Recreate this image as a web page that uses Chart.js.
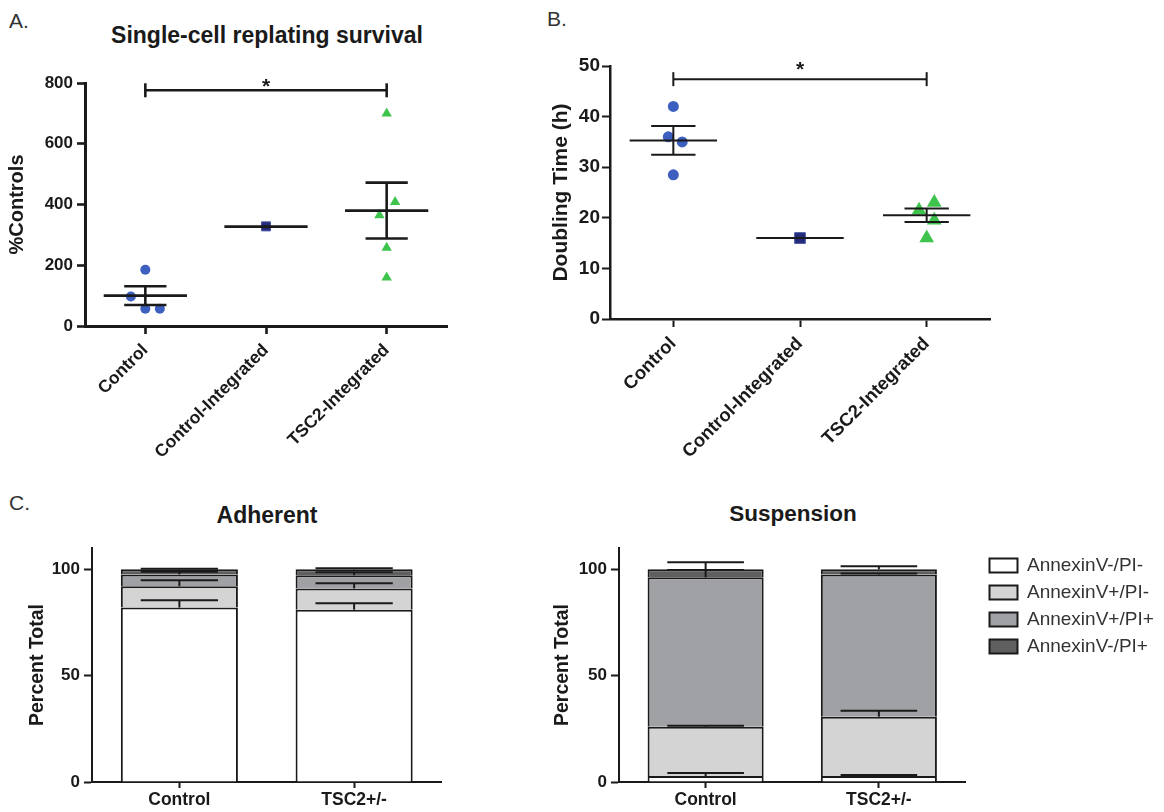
<!DOCTYPE html>
<html>
<head>
<meta charset="utf-8">
<title>TSC2 survival, doubling time and apoptosis</title>
<script src="https://cdn.jsdelivr.net/npm/chart.js@4.4.0/dist/chart.umd.min.js"></script>
<style>
    body { margin: 0; background: #fff; width: 1164px; height: 812px; position: relative; overflow: hidden;
           font-family: "Liberation Sans", Arial, Helvetica, sans-serif; }
    canvas { position: absolute; }
    .tag { position: absolute; font-size: 21px; color: #333; line-height: 1; }
    .title { position: absolute; font-size: 23px; font-weight: bold; color: #1a1a1a; white-space: nowrap;
             transform: translate(-50%, -50%); line-height: 1; }
</style>
</head>
<body>
<div class="tag" style="left:9px;top:10px">A.</div>
<div class="tag" style="left:547px;top:8px">B.</div>
<div class="tag" style="left:9px;top:492px">C.</div>
<div class="title" style="left:267px;top:35px">Single-cell replating survival</div>
<div class="title" style="left:267px;top:515px">Adherent</div>
<div class="title" style="left:793px;top:514px;font-size:22.5px">Suspension</div>

<canvas id="survival-chart" width="460" height="480" style="left:0;top:0"></canvas>
<canvas id="doubling-chart" width="460" height="480" style="left:540px;top:0"></canvas>
<canvas id="adherent-chart" width="460" height="332" style="left:0;top:480px"></canvas>
<canvas id="suspension-chart" width="634" height="332" style="left:530px;top:480px"></canvas>

<script>
// Groups for panels A and B
const groups = ['Control', 'Control-Integrated', 'TSC2-Integrated'];

// A. single-cell replating survival (% of controls)
const survivalControl = [185, 97, 57, 57];
const survivalControlJitter = [0, -0.12, 0, 0.12];
const survivalControlInt = [328];
const survivalTsc2Int = [700, 408, 365, 258, 160];
const survivalTsc2Jitter = [0, 0.07, -0.06, 0, 0];
const survivalMean = [100, 327, 380];
const survivalSem = [31, 0, 92];
const survivalSig = 776;

// B. doubling time (h)
const doublingControl = [42, 36, 35, 28.5];
const doublingControlJitter = [0, -0.04, 0.07, 0];
const doublingControlInt = [16];
const doublingTsc2Int = [21.5, 23, 19.5, 16];
const doublingTsc2Jitter = [-0.06, 0.06, 0.06, 0];
const doublingMean = [35.3, 16, 20.5];
const doublingSem = [2.85, 0, 1.35];
const doublingSig = 47.4;

// C. annexin V / PI staining (percent of total)
const cellLines = ['Control', 'TSC2+/-'];
const stainLabels = ['AnnexinV-/PI-', 'AnnexinV+/PI-', 'AnnexinV+/PI+', 'AnnexinV-/PI+'];
const percentTicks = [0, 50, 100];

const adherentNegNeg = [82, 81];
const adherentPosNeg = [10, 10];
const adherentPosPos = [5.6, 6.2];
const adherentNegPos = [2.4, 2.8];
const adherentNegNegSem = [3.4, 3.0];
const adherentPosNegSem = [2.8, 2.4];
const adherentPosPosSem = [1.2, 1.4];
const adherentNegPosSem = [0.3, 0.5];

const suspensionNegNeg = [2.8, 2.8];
const suspensionPosNeg = [23.2, 27.9];
const suspensionPosPos = [70.2, 66.9];
const suspensionNegPos = [3.8, 2.4];
const suspensionNegNegSem = [1.4, 0.5];
const suspensionPosNegSem = [0.4, 2.8];
const suspensionPosPosSem = [3.4, 0.4];
const suspensionNegPosSem = [3.3, 1.4];

// Styling
const ink = '#1a1a1a';
const fontFamily = '"Liberation Sans", Arial, Helvetica, sans-serif';
const stainColors = ['#ffffff', '#d4d4d4', '#a0a1a5', '#5f5f5f'];

Chart.defaults.font.family = fontFamily;
Chart.defaults.color = ink;
Chart.defaults.animation = false;

function scatterPoints(values, base, jitter) {
    return values.map((v, i) => ({ x: base + (jitter ? jitter[i] : 0), y: v }));
}

function strokeSeg(ctx, x1, y1, x2, y2) {
    ctx.beginPath();
    ctx.moveTo(x1, y1);
    ctx.lineTo(x2, y2);
    ctx.stroke();
}

// Mean +/- SEM lines and the significance bracket
const meanSemPlugin = {
    id: 'meanSem',
    afterDatasetsDraw(chart, args, opts) {
        const { ctx, scales: { x, y } } = chart;
        ctx.save();
        ctx.strokeStyle = ink;
        ctx.lineWidth = opts.lineWidth;
        opts.means.forEach((m, i) => {
            const cx = x.getPixelForValue(i);
            const half = x.getPixelForValue(i + opts.meanHalf) - cx;
            const cap = x.getPixelForValue(i + opts.capHalf) - cx;
            const ym = y.getPixelForValue(m);
            strokeSeg(ctx, cx - half, ym, cx + half, ym);
            const s = opts.sems[i];
            if (s > 0) {
                const yt = y.getPixelForValue(m + s);
                const yb = y.getPixelForValue(m - s);
                strokeSeg(ctx, cx, yt, cx, yb);
                strokeSeg(ctx, cx - cap, yt, cx + cap, yt);
                strokeSeg(ctx, cx - cap, yb, cx + cap, yb);
            }
        });
        // bracket between first and last group
        const x0 = x.getPixelForValue(0);
        const x2 = x.getPixelForValue(opts.means.length - 1);
        const ys = y.getPixelForValue(opts.sig);
        strokeSeg(ctx, x0, ys, x2, ys);
        strokeSeg(ctx, x0, ys - 7, x0, ys + 7);
        strokeSeg(ctx, x2, ys - 7, x2, ys + 7);
        ctx.fillStyle = ink;
        ctx.font = 'bold 21px ' + fontFamily;
        ctx.textAlign = 'center';
        ctx.textBaseline = 'alphabetic';
        ctx.fillText('*', (x0 + x2) / 2, ys + opts.starShift);
        ctx.restore();
    }
};

// Error bars on top of each stacked segment
const stackErrorPlugin = {
    id: 'stackErr',
    afterDatasetsDraw(chart, args, opts) {
        const { ctx, scales: { y } } = chart;
        ctx.save();
        ctx.strokeStyle = ink;
        ctx.lineWidth = 2;
        chart.data.datasets.forEach((ds, i) => {
            const meta = chart.getDatasetMeta(i);
            meta.data.forEach((bar, j) => {
                let cum = 0;
                for (let k = 0; k <= i; k++) cum += chart.data.datasets[k].data[j];
                const yTop = y.getPixelForValue(cum);
                const yErr = y.getPixelForValue(cum + opts.sems[i][j]);
                const cap = bar.width * 0.33;
                strokeSeg(ctx, bar.x, yTop, bar.x, yErr);
                strokeSeg(ctx, bar.x - cap, yErr, bar.x + cap, yErr);
            });
        });
        ctx.restore();
    }
};

// Fixes the legend width and nudges it right of the plot
const legendSlotPlugin = {
    id: 'legendSlot',
    beforeLayout(chart, args, opts) {
        const lg = chart.legend;
        if (lg && !lg._slotFit) {
            const fit = lg.fit.bind(lg);
            lg.fit = function () { fit(); this.width = opts.width; };
            lg._slotFit = true;
        }
    },
    afterLayout(chart, args, opts) {
        if (chart.legend) {
            chart.legend.left += opts.shift;
            chart.legend.right += opts.shift;
        }
    }
};

function dotPlot(id, cfg) {
    return new Chart(document.getElementById(id), {
        type: 'scatter',
        data: {
            datasets: [
                { data: scatterPoints(cfg.control, 0, cfg.controlJitter), pointStyle: 'circle',
                  pointRadius: cfg.radius[0], backgroundColor: '#3d5fbf', borderColor: '#3d5fbf', borderWidth: 0 },
                { data: scatterPoints(cfg.controlInt, 1), pointStyle: 'rect',
                  pointRadius: cfg.radius[1], backgroundColor: '#232a7c', borderColor: '#4b59a6', borderWidth: 1 },
                { data: scatterPoints(cfg.tsc2Int, 2, cfg.tsc2Jitter), pointStyle: 'triangle',
                  pointRadius: cfg.radius[2], backgroundColor: '#3ec44d', borderColor: '#3ec44d', borderWidth: 0 }
            ]
        },
        options: {
            responsive: false,
            devicePixelRatio: 1,
            layout: { padding: cfg.padding },
            plugins: {
                legend: { display: false },
                tooltip: { enabled: false },
                meanSem: { means: cfg.means, sems: cfg.sems, sig: cfg.sig, lineWidth: cfg.lineWidth,
                           meanHalf: 0.345, capHalf: 0.175, starShift: cfg.starShift }
            },
            scales: {
                x: {
                    type: 'linear', min: -0.5, max: 2.5,
                    afterBuildTicks: s => { s.ticks = groups.map((g, i) => ({ value: i })); },
                    afterFit: s => { s.height = cfg.xHeight; },
                    grid: { drawOnChartArea: false, tickLength: 8, tickWidth: cfg.lineWidth, tickColor: ink },
                    border: { display: true, color: ink, width: cfg.axisWidth },
                    ticks: { autoSkip: false, minRotation: 45, maxRotation: 45, padding: 6, color: ink,
                             font: { size: cfg.xFont, weight: 'bold' }, callback: v => groups[v] }
                },
                y: {
                    min: 0, max: cfg.yMax,
                    afterFit: s => { s.width = cfg.yWidth; },
                    grid: { drawOnChartArea: false, tickLength: 8, tickWidth: cfg.lineWidth, tickColor: ink },
                    border: { display: true, color: ink, width: cfg.axisWidth },
                    ticks: { stepSize: cfg.yStep, padding: cfg.yTickPad, color: ink,
                             font: { size: cfg.yFont, weight: 'bold' } },
                    title: { display: true, text: cfg.yTitle, color: ink,
                             font: { size: cfg.yTitleFont, weight: 'bold' }, padding: { top: cfg.yTitlePad, bottom: 0 } }
                }
            }
        },
        plugins: [meanSemPlugin]
    });
}

function stackPlot(id, series, sems, cfg) {
    return new Chart(document.getElementById(id), {
        type: 'bar',
        data: {
            labels: cellLines,
            datasets: series.map((vals, i) => ({
                label: stainLabels[i],
                data: vals,
                backgroundColor: stainColors[i],
                borderColor: ink,
                borderWidth: 2,
                borderSkipped: 'start',
                inflateAmount: 0,
                barPercentage: 0.67,
                categoryPercentage: 1
            }))
        },
        options: {
            responsive: false,
            devicePixelRatio: 1,
            layout: { padding: cfg.padding },
            plugins: {
                legend: {
                    display: cfg.legend, position: 'right', align: 'start',
                    labels: { boxWidth: 28, boxHeight: 14, padding: 8, color: '#333', font: { size: 19 } }
                },
                tooltip: { enabled: false },
                stackErr: { sems: sems },
                legendSlot: { width: cfg.legendWidth, shift: cfg.legendShift }
            },
            scales: {
                x: {
                    stacked: true,
                    afterFit: s => { s.height = 30; },
                    grid: { offset: false, drawOnChartArea: false, tickLength: 6, tickWidth: 2, tickColor: ink },
                    border: { display: true, color: ink, width: 2 },
                    ticks: { maxRotation: 0, padding: 2, color: ink, font: { size: 17.5, weight: 'bold' } }
                },
                y: {
                    stacked: true, min: 0, max: 110,
                    afterBuildTicks: s => { s.ticks = percentTicks.map(v => ({ value: v })); },
                    afterFit: s => { s.width = cfg.yWidth; },
                    grid: { drawOnChartArea: false, tickLength: 8, tickWidth: 2, tickColor: ink },
                    border: { display: true, color: ink, width: 2 },
                    ticks: { padding: 4, color: ink, font: { size: 17, weight: 'bold' } },
                    title: { display: true, text: 'Percent Total', color: ink,
                             font: { size: 19.5, weight: 'bold' }, padding: { top: cfg.yTitlePad, bottom: 0 } }
                }
            }
        },
        plugins: cfg.legend ? [stackErrorPlugin, legendSlotPlugin] : [stackErrorPlugin]
    });
}

document.addEventListener('DOMContentLoaded', function () {
    dotPlot('survival-chart', {
        control: survivalControl, controlJitter: survivalControlJitter,
        controlInt: survivalControlInt,
        tsc2Int: survivalTsc2Int, tsc2Jitter: survivalTsc2Jitter,
        means: survivalMean, sems: survivalSem, sig: survivalSig,
        radius: [5, 6.4, 6], lineWidth: 2.6, axisWidth: 3, starShift: 3,
        padding: { left: 0, top: 83, right: 13, bottom: 0 },
        yWidth: 85, xHeight: 154, yMax: 800, yStep: 200, yTickPad: 4,
        xFont: 17.5, yFont: 17, yTitle: '%Controls', yTitleFont: 20, yTitlePad: 5
    });

    dotPlot('doubling-chart', {
        control: doublingControl, controlJitter: doublingControlJitter,
        controlInt: doublingControlInt,
        tsc2Int: doublingTsc2Int, tsc2Jitter: doublingTsc2Jitter,
        means: doublingMean, sems: doublingSem, sig: doublingSig,
        radius: [5.5, 7.6, 8.5], lineWidth: 2, axisWidth: 2.5, starShift: -3,
        padding: { left: 0, top: 66, right: 10, bottom: 0 },
        yWidth: 70, xHeight: 161, yMax: 50, yStep: 10, yTickPad: 2,
        xFont: 18.5, yFont: 19, yTitle: 'Doubling Time (h)', yTitleFont: 21, yTitlePad: 9
    });

    stackPlot('adherent-chart',
        [adherentNegNeg, adherentPosNeg, adherentPosPos, adherentNegPos],
        [adherentNegNegSem, adherentPosNegSem, adherentPosPosSem, adherentNegPosSem],
        { legend: false, padding: { left: 0, top: 68, right: 18.5, bottom: 0 }, yWidth: 92, yTitlePad: 26 });

    stackPlot('suspension-chart',
        [suspensionNegNeg, suspensionPosNeg, suspensionPosPos, suspensionNegPos],
        [suspensionNegNegSem, suspensionPosNegSem, suspensionPosPosSem, suspensionNegPosSem],
        { legend: true, padding: { left: 0, top: 68, right: 0, bottom: 0 }, yWidth: 89, yTitlePad: 21,
          legendWidth: 198.5, legendShift: 16 });
});
</script>
</body>
</html>
